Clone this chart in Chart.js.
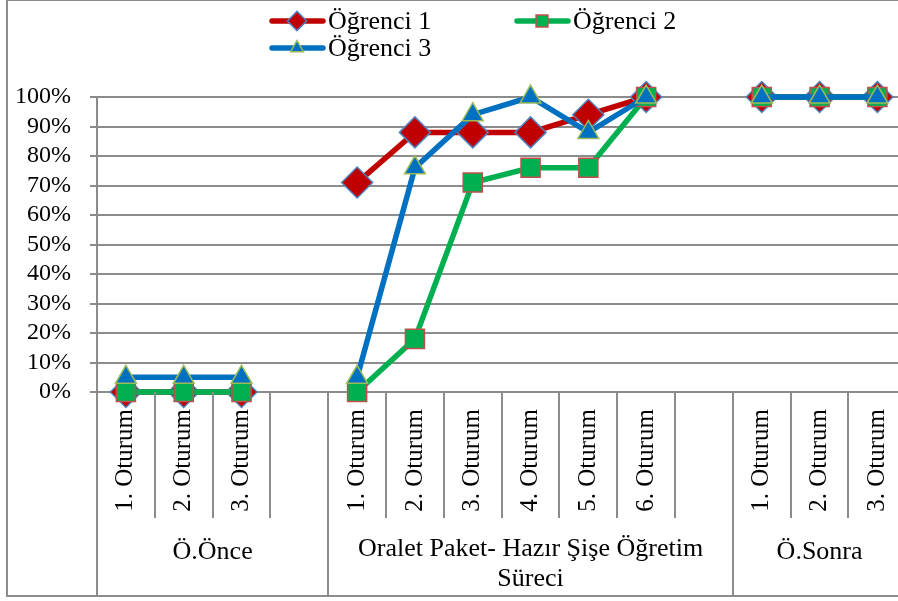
<!DOCTYPE html>
<html lang="tr">
<head>
<meta charset="UTF-8">
<title>Öğrenci başarı yüzdeleri</title>
<script src="https://cdn.jsdelivr.net/npm/chart.js@4.4.1/dist/chart.umd.min.js"></script>
<style>
  html, body { margin: 0; padding: 0; overflow: hidden; background: #fff; }
  #cerceve { position: absolute; left: 6px; top: -1px; width: 1000px; height: 594px; border: 2px solid #8c8c8c; }
  #grafik { position: absolute; left: 0; top: 0; }
</style>
</head>
<body>
<div id="cerceve"></div>
<canvas id="grafik" width="925" height="601"></canvas>

<script>
// oturum etiketleri (boş olanlar gruplar arasındaki boşluk)
const oturumlar = ['1. Oturum', '2. Oturum', '3. Oturum', '',
    '1. Oturum', '2. Oturum', '3. Oturum', '4. Oturum', '5. Oturum', '6. Oturum', '',
    '1. Oturum', '2. Oturum', '3. Oturum'];

// yüzdeler
const ogrenci1 = [0, 0, 0, null, 71, 88, 88, 88, 94, 100, null, 100, 100, 100];
const ogrenci2 = [0, 0, 0, null, 0, 18, 71, 76, 76, 100, null, 100, 100, 100];
const ogrenci3 = [5, 5, 5, null, 5, 76, 94, 100, 88, 100, null, 100, 100, 100];

const gruplar = ['Ö.Önce', ['Oralet Paket- Hazır Şişe Öğretim', 'Süreci'], 'Ö.Sonra'];
const grupBoylari = [4, 7, 3];

const gri = '#8c8c8c';
const yazi = '"Liberation Serif", "Times New Roman", serif';

// legend iki satır, elle çiziliyor
const lejant = {
    id: 'lejant',
    afterDraw(chart) {
        const ctx = chart.ctx;
        const yerler = [[270, 21], [515, 21], [270, 48]];
        chart.data.datasets.forEach((ds, i) => {
            const [x, y] = yerler[i];
            ctx.save();
            ctx.strokeStyle = ds.borderColor;
            ctx.lineWidth = 5.5;
            ctx.lineCap = 'round';
            ctx.beginPath();
            ctx.moveTo(x + 2, y);
            ctx.lineTo(x + 53, y);
            ctx.stroke();
            ctx.fillStyle = ds.pointBackgroundColor;
            ctx.strokeStyle = ds.pointBorderColor;
            ctx.lineWidth = 1.5;
            Chart.helpers.drawPoint(ctx, {
                pointStyle: ds.pointStyle,
                radius: ds.pointRadius * 0.62,
                rotation: 0,
                borderWidth: 1.5
            }, x + 27, y);
            ctx.fillStyle = '#000';
            ctx.font = '26px ' + yazi;
            ctx.textBaseline = 'middle';
            ctx.fillText(ds.label, x + 58, y + 1);
            ctx.restore();
        });
    }
};

// x ekseni altındaki bölme çizgileri ve grup adları
const ayraclar = {
    id: 'ayraclar',
    afterDraw(chart) {
        const {ctx, chartArea} = chart;
        const x = chart.scales.x;
        const w = x.getPixelForValue(1) - x.getPixelForValue(0);
        const sol = x.getPixelForValue(0) - w / 2;
        const sinirlar = [0];
        grupBoylari.forEach(n => sinirlar.push(sinirlar[sinirlar.length - 1] + n));

        ctx.save();
        ctx.strokeStyle = gri;
        ctx.lineWidth = 2;
        for (let k = 0; k <= oturumlar.length; k++) {
            const px = Math.round(sol + k * w);
            const alt = sinirlar.includes(k) ? 597 : chartArea.bottom + 126;
            ctx.beginPath();
            ctx.moveTo(px, chartArea.bottom);
            ctx.lineTo(px, alt);
            ctx.stroke();
        }

        ctx.fillStyle = '#000';
        ctx.font = '26px ' + yazi;
        ctx.textAlign = 'center';
        ctx.textBaseline = 'middle';
        gruplar.forEach((g, i) => {
            const orta = sol + (sinirlar[i] + sinirlar[i + 1]) / 2 * w;
            if (Array.isArray(g)) {
                ctx.fillText(g[0], orta, 549);
                ctx.fillText(g[1], orta, 579);
            } else {
                ctx.fillText(g, orta, 552);
            }
        });
        ctx.restore();
    }
};

function grafikCiz() {
    const ctx = document.querySelector('#grafik').getContext('2d');
    return new Chart(ctx, {
        type: 'line',
        data: {
            labels: oturumlar,
            datasets: [{
                label: 'Öğrenci 1',
                data: ogrenci1,
                borderColor: '#C00000',
                borderWidth: 5.5,
                pointStyle: 'rectRot',
                pointRadius: 15.5,
                pointBackgroundColor: '#C00000',
                pointBorderColor: '#4F81BD',
                pointBorderWidth: 1.5,
                order: 3
            }, {
                label: 'Öğrenci 2',
                data: ogrenci2,
                borderColor: '#00B050',
                borderWidth: 5.5,
                pointStyle: 'rect',
                pointRadius: 13.5,
                pointBackgroundColor: '#00B050',
                pointBorderColor: '#C0504D',
                pointBorderWidth: 1.5,
                order: 2
            }, {
                label: 'Öğrenci 3',
                data: ogrenci3,
                borderColor: '#0070C0',
                borderWidth: 5.5,
                pointStyle: 'triangle',
                pointRadius: 12,
                pointBackgroundColor: '#0070C0',
                pointBorderColor: '#9BBB59',
                pointBorderWidth: 1.5,
                order: 1
            }]
        },
        options: {
            responsive: false,
            animation: false,
            spanGaps: false,
            clip: false,
            elements: { line: { tension: 0 } },
            layout: { padding: { top: 97, left: 0, right: 0, bottom: 0 } },
            plugins: {
                legend: { display: false },
                tooltip: { enabled: false }
            },
            scales: {
                x: {
                    offset: true,
                    grid: { display: false, drawTicks: false },
                    border: { display: false },
                    ticks: {
                        autoSkip: false,
                        minRotation: 90,
                        maxRotation: 90,
                        padding: 17,
                        color: '#000',
                        font: { family: yazi, size: 25 }
                    },
                    afterFit: s => { s.height = 209; }
                },
                y: {
                    min: 0,
                    max: 100,
                    grid: { color: gri, lineWidth: 2, tickLength: 7 },
                    border: { display: true, color: gri, width: 2 },
                    ticks: {
                        stepSize: 10,
                        autoSkip: false,
                        padding: 19,
                        color: '#000',
                        font: { family: yazi, size: 24 },
                        callback: v => v + '%'
                    },
                    afterFit: s => { s.width = 97; }
                }
            }
        },
        plugins: [ayraclar, lejant]
    });
}

grafikCiz();
</script>
</body>
</html>
